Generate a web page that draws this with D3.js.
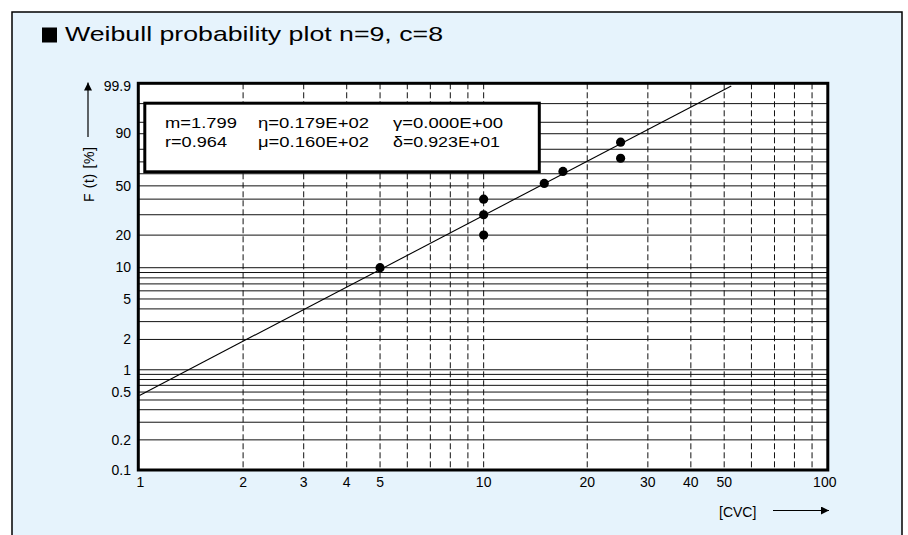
<!DOCTYPE html>
<html>
<head>
<meta charset="utf-8">
<script src="https://cdn.jsdelivr.net/npm/d3@7"></script>
<style>
  body { margin: 0; background: #fff; }
  svg text { font-family: "Liberation Sans", Arial, Helvetica, sans-serif; fill: #000; }
</style>
</head>
<body>
<div id="chart"></div>
<script>
// data
const titleText   = "Weibull probability plot n=9, c=8";
const xTickValues = [1, 2, 3, 4, 5, 10, 20, 30, 40, 50, 100];
const xGridValues = [2, 3, 4, 5, 6, 7, 8, 9, 10, 20, 30, 40, 50, 60, 70, 80, 90];
const yGridValues = [0.2, 0.3, 0.4, 0.5, 0.6, 0.7, 0.8, 0.9, 1, 2, 3, 4, 5, 6, 7, 8, 9, 10,
                     20, 30, 40, 50, 60, 70, 80, 90, 95, 99];
const yTickLabels = ["0.1", "0.2", "0.5", "1", "2", "5", "10", "20", "50", "90", "99.9"];
const yTickAt     = [0.1, 0.2, 0.6, 1, 2, 5, 10, 20, 50, 90, 99.9];   // where each label sits
const cycles      = [5, 10, 10, 10, 15, 17, 25, 25];
const failPct     = [10, 20, 30, 40, 52, 62, 73, 85];
const paramRow1   = [["m", "1.799"], ["η", "0.179E+02"], ["γ", "0.000E+00"]];
const paramRow2   = [["r", "0.964"], ["μ", "0.160E+02"], ["δ", "0.923E+01"]];

const W = 908, H = 535;
const plot = { left: 138.3, top: 83.3, right: 827.8, bottom: 470 };

const wb = p => Math.log(-Math.log(1 - p / 100));

const svg = d3.select("#chart").append("svg").attr("width", W).attr("height", H);

// outer panel
svg.append("rect")
  .attr("x", 12).attr("y", 12).attr("width", 890).attr("height", 560)
  .attr("fill", "#e6f3fc").attr("stroke", "#000").attr("stroke-width", 1.5);

// title
svg.append("rect").attr("x", 42).attr("y", 27.5).attr("width", 15).attr("height", 15).attr("fill", "#000");
svg.append("text")
  .attr("x", 65).attr("y", 40.5)
  .style("font-size", "21px")
  .attr("textLength", 378).attr("lengthAdjust", "spacingAndGlyphs")
  .text(titleText);

const x = d3.scaleLog().domain([1, 100]).range([139.5, plot.right]);
const y = d3.scaleLinear().domain([wb(0.1), wb(99.9)]).range([470, 86]);

svg.append("rect")
  .attr("x", plot.left).attr("y", plot.top)
  .attr("width", plot.right - plot.left).attr("height", plot.bottom - plot.top)
  .attr("fill", "#fff");

const grid = svg.append("g");
grid.selectAll("line.h")
  .data(yGridValues)
  .join("line")
    .attr("class", "h")
    .attr("x1", plot.left).attr("x2", plot.right)
    .attr("y1", d => y(wb(d))).attr("y2", d => y(wb(d)))
    .attr("stroke", "#111").attr("stroke-width", 1);

grid.selectAll("line.v")
  .data(xGridValues)
  .join("line")
    .attr("class", "v")
    .attr("x1", d => x(d)).attr("x2", d => x(d))
    .attr("y1", plot.top).attr("y2", plot.bottom)
    .attr("stroke", "#111").attr("stroke-width", 1)
    .attr("stroke-dasharray", "6,3");

// regression line F(t) = 1 - exp(-(t/eta)^m)
const m = +paramRow1[0][1], eta = +paramRow1[1][1];
const tAt = p => eta * Math.exp(wb(p) / m);
const tStart = 1, tEnd = tAt(99.9);
svg.append("path")
  .datum([tStart, tEnd])
  .attr("fill", "none").attr("stroke", "#000").attr("stroke-width", 1.1)
  .attr("d", d3.line().x(t => x(t)).y(t => y(m * (Math.log(t) - Math.log(eta)))));

// data points
svg.append("g").selectAll("circle")
  .data(cycles.map((c, i) => ({ c, p: failPct[i] })))
  .join("circle")
    .attr("cx", d => x(d.c)).attr("cy", d => y(wb(d.p)))
    .attr("r", 4.6).attr("fill", "#000");

// frame
svg.append("rect")
  .attr("x", plot.left).attr("y", plot.top)
  .attr("width", plot.right - plot.left).attr("height", plot.bottom - plot.top)
  .attr("fill", "none").attr("stroke", "#000").attr("stroke-width", 3);

// parameter box
const box = svg.append("g");
box.append("rect")
  .attr("x", 144.8).attr("y", 103.2).attr("width", 394.5).attr("height", 68.6)
  .attr("fill", "#fff").attr("stroke", "#000").attr("stroke-width", 3);
const colX = [165, 258, 393];
const widths1 = [72, 111, 110], widths2 = [62, 111, 107];
[[paramRow1, 127.5, widths1], [paramRow2, 147, widths2]].forEach(([row, yy, ws]) => {
  box.selectAll(null)
    .data(row)
    .join("text")
      .attr("x", (_, i) => colX[i]).attr("y", yy)
      .style("font-size", "15px")
      .attr("textLength", (_, i) => ws[i]).attr("lengthAdjust", "spacingAndGlyphs")
      .text(d => `${d[0]}=${d[1]}`);
});

// axis labels
svg.append("g").selectAll("text")
  .data(xTickValues)
  .join("text")
    .attr("x", d => x(d) + (d === 100 ? -3 : d === 1 ? 1 : 0))
    .attr("y", 486.5)
    .attr("text-anchor", "middle")
    .style("font-size", "14px")
    .text(d => d);

svg.append("g").selectAll("text")
  .data(yTickLabels)
  .join("text")
    .attr("x", 131)
    .attr("y", (_, i) => y(wb(yTickAt[i])))
    .attr("dy", "0.34em")
    .attr("text-anchor", "end")
    .style("font-size", "14px")
    .text(d => d);

// axis titles with arrows
svg.append("defs").append("marker")
  .attr("id", "arr").attr("viewBox", "0 0 10 10")
  .attr("refX", 10).attr("refY", 5)
  .attr("markerWidth", 8).attr("markerHeight", 8)
  .attr("markerUnits", "userSpaceOnUse")
  .attr("orient", "auto")
  .append("path").attr("d", "M0,0L10,5L0,10Z").attr("fill", "#000");

svg.append("text")
  .attr("transform", "translate(93.5,202) rotate(-90)")
  .style("font-size", "14px")
  .attr("textLength", 55).attr("lengthAdjust", "spacing")
  .text("F (t) [%]");
svg.append("line")
  .attr("x1", 88).attr("x2", 88).attr("y1", 137).attr("y2", 82.5)
  .attr("stroke", "#000").attr("stroke-width", 1.2)
  .attr("marker-end", "url(#arr)");

svg.append("text")
  .attr("x", 719).attr("y", 516.5)
  .style("font-size", "14px")
  .text("[CVC]");
svg.append("line")
  .attr("x1", 773).attr("x2", 829).attr("y1", 510.5).attr("y2", 510.5)
  .attr("stroke", "#000").attr("stroke-width", 1.2)
  .attr("marker-end", "url(#arr)");
</script>
</body>
</html>
